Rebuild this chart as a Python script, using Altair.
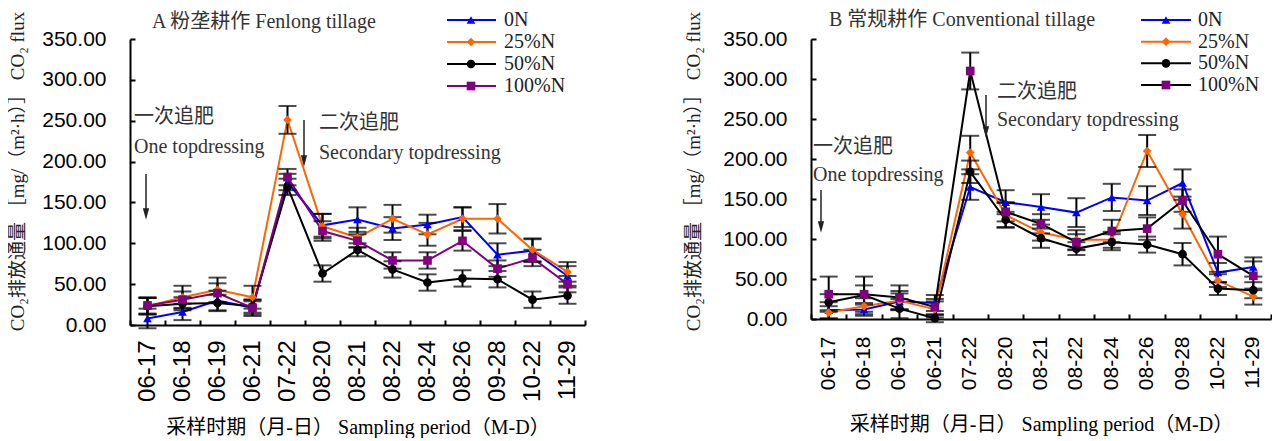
import altair as alt
import pandas as pd

dates = ["06-17", "06-18", "06-19", "06-21", "07-22", "08-20", "08-21",
         "08-22", "08-24", "08-26", "09-28", "10-22", "11-29"]
series = ["0N", "25%N", "50%N", "100%N"]
colors = ["#0000FF", "#FF6600", "#000000", "#800080"]
shapes = ["triangle-up", "diamond", "circle", "square"]

# Panel A: Fenlong tillage
A_0N = [8, 16, 30, 21, 175, 122, 129, 118, 123, 132, 86, 91, 60]
A_25N = [23, 34, 43, 34, 251, 121, 107, 130, 111, 130, 130, 92, 65]
A_50N = [23, 26, 27, 23, 169, 63, 92, 68, 52, 57, 56, 31, 36]
A_100N = [24, 31, 39, 21, 181, 115, 103, 79, 79, 103, 69, 82, 50]
A_0N_err = [12, 10, 12, 10, 10, 14, 15, 14, 12, 12, 14, 14, 12]
A_25N_err = [10, 14, 15, 14, 17, 15, 12, 17, 14, 14, 18, 14, 12]
A_50N_err = [10, 8, 10, 8, 10, 10, 8, 10, 10, 10, 10, 10, 10]
A_100N_err = [10, 10, 12, 8, 10, 12, 8, 10, 10, 12, 10, 10, 10]

# Panel B: Conventional tillage
B_0N = [11, 12, 22, 20, 165, 146, 140, 133, 152, 148, 170, 58, 65]
B_25N = [8, 16, 23, 12, 208, 130, 108, 99, 99, 210, 131, 48, 28]
B_50N = [21, 30, 13, 1, 184, 124, 101, 88, 96, 93, 81, 38, 36]
B_100N = [31, 31, 27, 15, 310, 134, 119, 96, 110, 113, 148, 81, 54]
B_0N_err = [10, 8, 10, 10, 16, 15, 16, 18, 17, 18, 17, 12, 12]
B_25N_err = [8, 10, 12, 10, 21, 15, 10, 12, 10, 20, 18, 8, 10]
B_50N_err = [10, 12, 12, 5, 14, 10, 12, 8, 10, 10, 14, 8, 10]
B_100N_err = [22, 22, 15, 10, 23, 12, 12, 10, 14, 14, 14, 22, 18]

y_ticks = [0, 50, 100, 150, 200, 250, 300, 350]

SERIF = "Liberation Serif, Noto Sans CJK SC"
Y_TITLE = "CO₂排放通量 ［mg/（m²·h）］ CO₂ flux"
X_TITLE = "采样时期（月-日） Sampling period（M-D）"

color_scale = alt.Scale(domain=series, range=colors)
shape_scale = alt.Scale(domain=series, range=shapes)


def build_df(vals, errs, line_colors):
    rows = []
    for s, v, e, lc in zip(series, vals, errs, line_colors):
        for d, vv, ee in zip(dates, v, e):
            rows.append({"date": d, "series": s, "value": vv,
                         "lo": max(vv - ee, -4), "hi": vv + ee, "line_color": lc})
    return pd.DataFrame(rows)


def panel(df, width, height, xlab_size, xlab_pad, xtitle_pad, ytitle_pad, ytitle_y,
          title, title_xy, legend_cfg, annots, arrows, line_colors):
    xs = alt.Scale(domain=dates, paddingInner=0, paddingOuter=0)
    ys = alt.Scale(domain=[0, 350], nice=False, zero=True)

    x_main = alt.X("date:N", scale=xs, sort=dates, axis=alt.Axis(
        orient="bottom",
        labelAngle=-90, tickSize=0, labelPadding=xlab_pad, labelFont="Liberation Sans",
        labelFontSize=xlab_size, labelColor="black", domainColor="black", domainWidth=2,
        title=X_TITLE, titleFont=SERIF, titleFontSize=20, titleFontWeight="normal",
        titleColor="black", titlePadding=xtitle_pad, grid=False))
    y_main = alt.Y("value:Q", scale=ys, axis=alt.Axis(
        orient="left",
        values=y_ticks, format=".2f", tickSize=0, labelPadding=24,
        labelFont="Liberation Sans", labelFontSize=21, labelColor="black",
        domainColor="black", domainWidth=2, grid=False,
        title=Y_TITLE, titleFont=SERIF, titleFontSize=19, titleFontWeight="normal",
        titleColor="#222", titlePadding=ytitle_pad, titleY=ytitle_y))
    x_ticks = alt.X("date:N", scale=xs, sort=dates, axis=alt.Axis(
        orient="bottom", offset=-5, labels=False, domain=False, tickSize=5,
        tickWidth=2, tickColor="black", tickBand="extent", title=None, grid=False))
    y_tick_ax = alt.Y("lo:Q", scale=ys, axis=alt.Axis(
        orient="left", offset=-5, labels=False, domain=False, tickSize=5,
        tickWidth=2, tickColor="black", values=y_ticks, title=None, grid=False))
    x_none = alt.X("date:N", scale=xs, sort=dates, axis=None)

    base = alt.Chart(df)
    lines = base.mark_line(strokeWidth=2).encode(
        x=x_main, y=y_main, detail="series:N",
        stroke=alt.Stroke("line_color:N", scale=None))
    err_rule = base.mark_rule(color="black", strokeWidth=2).encode(
        x=x_ticks, y=y_tick_ax, y2="hi:Q")
    cap_lo = base.mark_tick(color="black", size=18, thickness=2).encode(
        x=x_none, y=alt.Y("lo:Q", scale=ys, axis=None))
    cap_hi = base.mark_tick(color="black", size=18, thickness=2).encode(
        x=x_none, y=alt.Y("hi:Q", scale=ys, axis=None))
    points = base.mark_point(filled=True, opacity=1, size=75).encode(
        x=x_none, y=alt.Y("value:Q", scale=ys, axis=None),
        color=alt.Color("series:N", scale=color_scale, legend=None),
        shape=alt.Shape("series:N", scale=shape_scale, legend=None))

    data_layer = alt.layer(lines, err_rule, cap_lo, cap_hi, points).resolve_axis(
        x="independent", y="independent")

    # custom legend
    lx0, lx1, lmx, ltx, lys = legend_cfg
    leg_df = pd.DataFrame({"series": series, "row": [0, 1, 2, 3],
                           "line_color": line_colors})
    ly = alt.Y("row:Q", scale=alt.Scale(domain=[0, 3], range=list(lys), nice=False, zero=False),
               axis=None)
    lb = alt.Chart(leg_df)
    leg = alt.layer(
        lb.mark_rule(strokeWidth=2).encode(
            x=alt.value(lx0), x2=alt.value(lx1), y=ly,
            stroke=alt.Stroke("line_color:N", scale=None)),
        lb.mark_point(filled=True, opacity=1, size=75).encode(
            x=alt.value(lmx), y=ly,
            color=alt.Color("series:N", scale=color_scale, legend=None),
            shape=alt.Shape("series:N", scale=shape_scale, legend=None)),
        lb.mark_text(align="left", baseline="middle", font=SERIF, fontSize=20,
                     color="#222").encode(x=alt.value(ltx), y=ly, text="series:N"),
    )

    layers = [data_layer, leg]
    one = pd.DataFrame({"a": [0]})
    layers.append(alt.Chart(one).mark_text(
        text=title, align="left", baseline="middle", font=SERIF, fontSize=20,
        color="#333").encode(x=alt.value(title_xy[0]), y=alt.value(title_xy[1])))
    for txt, ax, ay in annots:
        layers.append(alt.Chart(one).mark_text(
            text=txt, align="left", baseline="middle", font=SERIF, fontSize=20,
            color="#333").encode(x=alt.value(ax), y=alt.value(ay)))
    for ax, ay0, ay1 in arrows:
        layers.append(alt.Chart(one).mark_rule(color="#222", strokeWidth=1.5).encode(
            x=alt.value(ax), y=alt.value(ay0), y2=alt.value(ay1 - 8)))
        layers.append(alt.Chart(one).mark_point(
            shape="M-0.55,-1L0.55,-1L0,1Z", filled=True, opacity=1, color="#222",
            size=130).encode(x=alt.value(ax), y=alt.value(ay1 - 6)))

    return alt.layer(*layers).resolve_scale(y="independent").properties(
        width=width, height=height)


lcA = colors
lcB = ["#0000FF", "#FF6600", "#000000", "#000000"]

dfA = build_df([A_0N, A_25N, A_50N, A_100N],
               [A_0N_err, A_25N_err, A_50N_err, A_100N_err], lcA)
dfB = build_df([B_0N, B_25N, B_50N, B_100N],
               [B_0N_err, B_25N_err, B_50N_err, B_100N_err], lcB)

left = panel(
    dfA, 455, 286, 24, 15, 16, 14, 132,
    "A 粉垄耕作 Fenlong tillage", (22, -17),
    (317, 366, 341, 374, (-19, 47)),
    [("一次追肥", 4, 78), ("One topdressing", 4, 108),
     ("二次追肥", 189, 84), ("Secondary topdressing", 189, 114)],
    [(16, 135, 181), (174, 81, 128)], lcA)

right = panel(
    dfB, 460, 280, 21, 17, 25, 19, 132,
    "B 常规耕作 Conventional tillage", (18, -19),
    (330, 380, 355, 387, (-19, 46)),
    [("一次追肥", 2, 108), ("One topdressing", 2, 136),
     ("二次追肥", 186, 53), ("Secondary topdressing", 186, 81)],
    [(10, 151, 194), (175, 56, 99)], lcB)

chart = alt.hconcat(left, right, spacing=226, bounds="flush").properties(
    padding={"top": 2, "left": 0, "right": 0, "bottom": 0}, background="white"
).configure_view(stroke=None)

chart.save("out.html", embed_options={"renderer": "svg", "actions": False})
